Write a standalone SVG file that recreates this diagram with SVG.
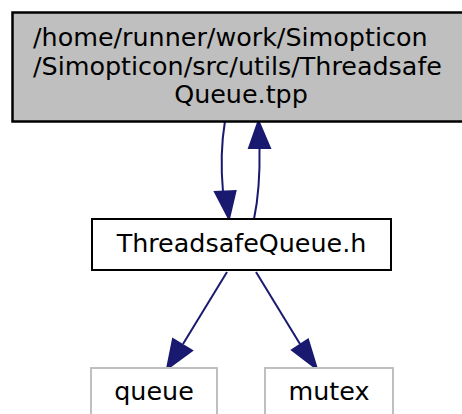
<svg xmlns="http://www.w3.org/2000/svg" width="462" height="414" viewBox="0 0 462 414">
<style>
text{font-family:"DejaVu Sans","Liberation Sans",sans-serif;font-size:25.4px;fill:#000}
.edge{fill:none;stroke:#191970;stroke-width:2}
.head{fill:#191970;stroke:#191970;stroke-width:2}
.box{fill:#fff;stroke:#000;stroke-width:2}
.gray{fill:#fff;stroke:#bfbfbf;stroke-width:2}
</style>
<rect width="462" height="414" fill="#fff"/>
<g id="connectors">
<path class="edge" d="M225,121 C221,145 221,170 223,192"/>
<polygon class="head" points="215,192 229,219 235.5,191"/>
<path class="edge" d="M254,219 C258,200 260,175 259.5,148"/>
<polygon class="head" points="249,148 258.5,121 270,148"/>
<path class="edge" d="M227,272 L183,344"/>
<polygon class="head" points="173,339 167,369 192,350.5"/>
<path class="edge" d="M256,272 L300,344"/>
<polygon class="head" points="292,350 317,369 308,339.5"/>
</g>
<g id="node-tpp">
<rect x="12.5" y="12.5" width="460" height="109" fill="#bfbfbf" stroke="#000" stroke-width="2.5"/>
<text x="33" y="46">/home/runner/work/Simopticon</text>
<text x="33" y="75">/Simopticon/src/utils/Threadsafe</text>
<text x="241" y="103" text-anchor="middle">Queue.tpp</text>
</g>
<g id="node-h">
<rect class="box" x="92" y="219" width="299" height="51"/>
<text x="241.5" y="252" text-anchor="middle">ThreadsafeQueue.h</text>
</g>
<g id="node-queue">
<rect class="gray" x="91" y="368" width="126" height="60"/>
<text x="154" y="400" text-anchor="middle">queue</text>
</g>
<g id="node-mutex">
<rect class="gray" x="265" y="368" width="128" height="60"/>
<text x="329" y="400" text-anchor="middle">mutex</text>
</g>
</svg>
